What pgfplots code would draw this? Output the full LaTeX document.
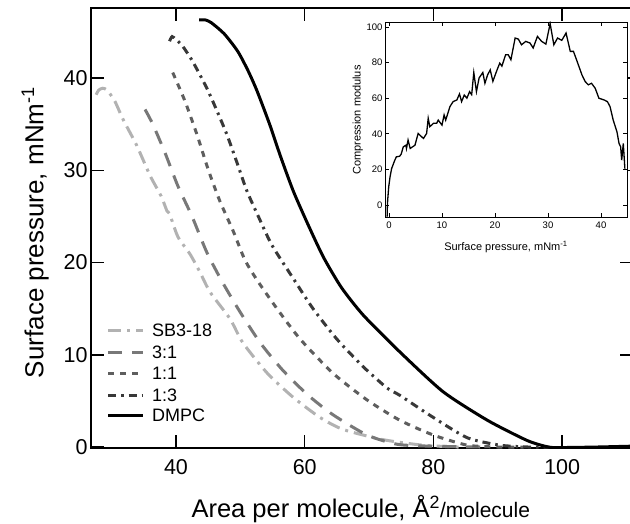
\documentclass[border=0pt]{standalone}
\usepackage{fontspec}
\setmainfont{Liberation Sans}
\usepackage{pgfplots}
\pgfplotsset{compat=1.18}

\definecolor{cSB}{gray}{0.70}
\definecolor{cA}{gray}{0.47}
\definecolor{cB}{gray}{0.37}
\definecolor{cC}{gray}{0.22}

\tikzset{
  sSB/.style={cSB, dash pattern=on 13pt off 6pt on 3pt off 6pt},
  sA/.style={cA, dash pattern=on 14pt off 10pt},
  sB/.style={cB, dash pattern=on 6pt off 6pt},
  sC/.style={cC, dash pattern=on 8pt off 5pt on 2.5pt off 5pt},
  sD/.style={black},
  legtxt/.style={anchor=west, inner sep=0pt, font=\fontsize{18}{18}\selectfont},
}

\begin{document}
\begin{tikzpicture}[x=1pt,y=1pt]
\begin{axis}[
    at={(91pt,75pt)}, anchor=south west,
    scale only axis, width=542pt, height=440pt,
    xmin=26.8, xmax=111.0, ymin=-0.1, ymax=47.6,
    xtick={40,60,80,100}, ytick={0,10,20,30,40},
    tick align=inside, major tick length=13pt,
    tick style={line width=1.5pt, black},
    axis line style={line width=1.8pt},
    /pgf/number format/assume math mode=true,
    ticklabel style={font=\fontsize{21.5}{21.5}\selectfont},
    xticklabel style={yshift=-8pt},
    xlabel={Area per molecule, Å\textsuperscript{2}{\fontsize{21}{21}\selectfont /molecule}},
    xlabel style={font=\fontsize{25.5}{25.5}\selectfont, at={(axis description cs:0.179,-0.159)}, anchor=base west},
    ylabel={Surface pressure, mNm\textsuperscript{-1}},
    ylabel style={font=\fontsize{26}{26}\selectfont, at={(axis description cs:-0.103,0.49)}, anchor=center, rotate=0},
    every axis plot/.append style={line width=3pt, smooth, tension=0.4},
]
\addplot[sSB] coordinates {
(27.6,38.2) (28.0,38.7) (28.6,38.9) (29.3,38.7) (30.5,37.5) (31.8,35.5) (33.9,32.7)
(36.0,29.4) (37.7,27.2) (38.6,25.6) (39.0,25.3) (40.3,22.8) (42.2,20.9) (43.7,19.0)
(45.3,16.8) (48.4,13.9) (50.4,11.3) (54.2,8.0) (58.2,5.4) (62.4,3.2) (66.0,1.9)
(72.2,0.8) (78.4,0.2) (84.0,0.0)};
\addplot[sA] coordinates {
(35.2,36.6) (36.4,35.0) (38.3,31.9) (40.3,28.3) (42.5,25.0) (44.8,21.1) (47.2,17.9)
(50.0,14.6) (53.1,11.3) (56.5,8.4) (60.4,5.7) (64.4,3.5) (69.7,1.3) (74.4,0.3)
(79.5,0.1) (88.0,0.0)};
\addplot[sB] coordinates {
(39.5,40.6) (41.4,37.5) (43.3,33.8) (45.0,30.1) (46.8,26.7) (48.9,23.4) (50.7,20.3)
(52.6,18.1) (55.7,15.0) (59.3,11.7) (64.4,8.0) (69.7,5.1) (74.8,2.9) (80.0,1.3)
(85.3,0.2) (90.4,0.0) (94.0,0.0)};
\addplot[sC] coordinates {
(39.0,44.0) (39.4,44.5) (40.0,44.2) (41.0,43.5) (42.6,41.8) (44.8,38.9) (46.4,36.4)
(47.9,33.9) (49.5,30.8) (51.0,27.8) (52.8,25.0) (54.9,21.9) (58.2,18.3) (61.3,15.0)
(65.0,11.7) (69.1,8.7) (72.8,6.4) (74.8,5.6) (80.0,3.2) (85.3,1.0) (90.4,0.2)
(95.0,0.0) (98.0,0.0)};
\addplot[sD] coordinates {
(43.6,46.3) (44.6,46.3) (45.5,46.0) (47.5,44.8) (49.6,42.9) (51.2,40.8) (52.6,38.6)
(54.6,34.9) (56.2,31.6) (58.2,27.8) (60.4,24.3) (62.9,20.6) (65.7,17.3) (69.1,14.3)
(74.8,10.3) (81.5,6.0) (88.4,2.9) (94.6,0.7) (97.9,0.0) (100.0,-0.05) (105.0,0.0)
(110.9,0.1)};
% legend
\draw[sSB, line width=3pt] (axis description cs:0.0314,0.268) -- (axis description cs:0.096,0.268);
\node[legtxt] at (axis description cs:0.1125,0.268) {SB3-18};
\draw[sA, line width=3pt] (axis description cs:0.0314,0.218) -- (axis description cs:0.096,0.218);
\node[legtxt] at (axis description cs:0.1125,0.218) {3:1};
\draw[sB, line width=3pt] (axis description cs:0.0314,0.170) -- (axis description cs:0.096,0.170);
\node[legtxt] at (axis description cs:0.1125,0.170) {1:1};
\draw[sC, line width=3pt] (axis description cs:0.0314,0.120) -- (axis description cs:0.096,0.120);
\node[legtxt] at (axis description cs:0.1125,0.120) {1:3};
\draw[sD, line width=3pt] (axis description cs:0.0314,0.075) -- (axis description cs:0.096,0.075);
\node[legtxt] at (axis description cs:0.1125,0.075) {DMPC};
\end{axis}

\begin{axis}[
    at={(385pt,306pt)}, anchor=south west,
    scale only axis, width=242pt, height=195pt,
    axis background/.style={fill=white},
    xmin=-0.75, xmax=44.9, ymin=-6.7, ymax=102.8,
    xtick={0,10,20,30,40}, ytick={0,20,40,60,80,100},
    tick align=inside, major tick length=4pt,
    tick style={line width=0.8pt, black},
    axis line style={line width=0.8pt},
    /pgf/number format/assume math mode=true,
    ticklabel style={font=\fontsize{9.5}{9.5}\selectfont},
    xticklabel style={yshift=-1pt},
    yticklabel style={xshift=1pt},
    xlabel={Surface pressure, mNm\textsuperscript{-1}},
    xlabel style={font=\fontsize{11}{11}\selectfont, at={(axis description cs:0.5,-0.174)}, anchor=base},
    ylabel={Compression modulus},
    ylabel style={font=\fontsize{11}{11}\selectfont, at={(axis description cs:-0.112,0.497)}, anchor=center, rotate=0},
]
\addplot[black, line width=1.3pt] coordinates {
(-0.35,-6.5) (-0.3,-0.9) (-0.25,2.6) (-0.05,10.2) (0.2,15.8) (0.5,20.5) (1.1,25.2)
(1.4,27.1) (2.0,27.4) (2.3,28.6) (2.7,32.7) (3.2,33.6) (3.3,31.8) (3.6,36.5)
(4.0,31.8) (4.9,33.6) (5.5,40.2) (6.5,37.4) (7.1,40.2) (7.4,48.7) (7.7,44.0)
(8.4,45.9) (9.0,45.9) (9.3,47.7) (10.0,44.9) (10.4,50.6) (10.7,47.7) (11.5,55.3)
(12.1,58.1) (12.8,59.0) (13.3,62.4) (13.7,58.1) (14.2,61.8) (14.7,60.0) (15.2,63.7)
(15.6,62.0) (16.0,74.4) (16.5,63.7) (17.0,71.4) (17.7,74.4) (18.1,68.4) (18.6,73.1)
(19.1,75.9) (19.6,69.5) (20.3,75.2) (20.9,79.7) (21.3,78.0) (22.0,84.4) (22.5,84.4)
(23.0,81.6) (23.8,93.8) (24.4,93.2) (25.0,90.0) (25.8,91.9) (26.6,91.0) (27.2,88.2)
(28.0,94.7) (28.8,91.9) (29.6,90.4) (30.4,101.9) (31.1,90.0) (31.8,93.8) (32.6,92.5)
(33.4,96.6) (34.2,86.3) (34.8,86.3) (35.5,80.6) (36.4,73.1) (37.0,69.4) (37.6,67.5)
(38.2,68.4) (38.9,65.6) (39.6,60.0) (40.6,59.0) (41.2,58.1) (41.7,55.3) (42.3,47.7)
(43.0,41.2) (43.4,34.6) (43.7,32.7) (43.9,25.2) (44.2,34.6) (44.5,20.5)};
\end{axis}
\pgfresetboundingbox
\path[use as bounding box] (0pt,0pt) rectangle (630pt,523pt);
\end{tikzpicture}
\end{document}
